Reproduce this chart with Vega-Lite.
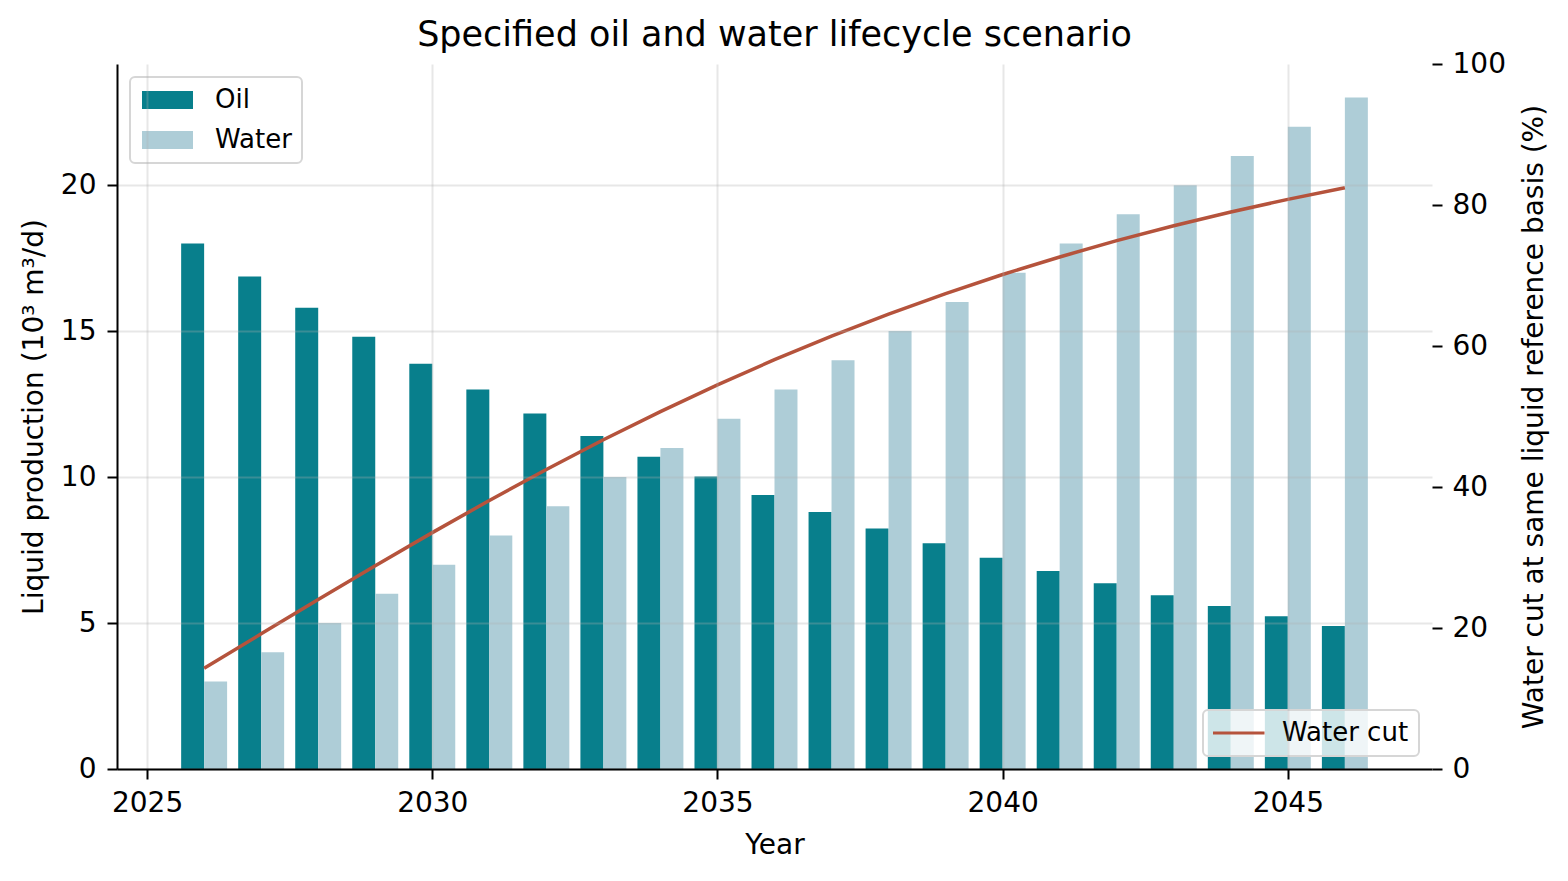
{
  "$schema": "https://vega.github.io/schema/vega-lite/v6.json",
  "width": 1315,
  "height": 705,
  "autosize": {"type": "none"},
  "padding": {"left": 117, "top": 64, "right": 136, "bottom": 112},
  "background": "white",
  "title": {
    "text": "Specified oil and water lifecycle scenario",
    "fontSize": 35,
    "fontWeight": "normal",
    "font": "DejaVu Sans",
    "color": "black",
    "anchor": "middle",
    "frame": "group",
    "baseline": "alphabetic",
    "offset": 18,
    "dy": 49
  },
  "config": {
    "font": "DejaVu Sans",
    "view": {"stroke": null},
    "axis": {
      "labelFont": "DejaVu Sans",
      "titleFont": "DejaVu Sans",
      "labelFontSize": 28,
      "titleFontSize": 28,
      "titleFontWeight": "normal",
      "labelColor": "black",
      "titleColor": "black",
      "tickColor": "black",
      "domainColor": "black",
      "tickSize": 10,
      "tickWidth": 2,
      "domainWidth": 2,
      "gridColor": "#b0b0b0",
      "gridOpacity": 0.3,
      "gridWidth": 2
    },
    "legend": {
      "labelFont": "DejaVu Sans",
      "labelFontSize": 26,
      "labelColor": "black",
      "strokeColor": "#d6d6d6",
      "strokeWidth": 2,
      "fillColor": "rgba(255,255,255,0.8)",
      "cornerRadius": 5,
      "padding": 10,
      "clipHeight": 26
    }
  },
  "datasets": {
    "bars": [
      {"year": 2026, "series": "Oil", "value": 18.00},
      {"year": 2027, "series": "Oil", "value": 16.87},
      {"year": 2028, "series": "Oil", "value": 15.80},
      {"year": 2029, "series": "Oil", "value": 14.81},
      {"year": 2030, "series": "Oil", "value": 13.88},
      {"year": 2031, "series": "Oil", "value": 13.00},
      {"year": 2032, "series": "Oil", "value": 12.18},
      {"year": 2033, "series": "Oil", "value": 11.41},
      {"year": 2034, "series": "Oil", "value": 10.70},
      {"year": 2035, "series": "Oil", "value": 10.02},
      {"year": 2036, "series": "Oil", "value": 9.39},
      {"year": 2037, "series": "Oil", "value": 8.80},
      {"year": 2038, "series": "Oil", "value": 8.24},
      {"year": 2039, "series": "Oil", "value": 7.73},
      {"year": 2040, "series": "Oil", "value": 7.24},
      {"year": 2041, "series": "Oil", "value": 6.78},
      {"year": 2042, "series": "Oil", "value": 6.36},
      {"year": 2043, "series": "Oil", "value": 5.95},
      {"year": 2044, "series": "Oil", "value": 5.58},
      {"year": 2045, "series": "Oil", "value": 5.23},
      {"year": 2046, "series": "Oil", "value": 4.90},
      {"year": 2026, "series": "Water", "value": 3},
      {"year": 2027, "series": "Water", "value": 4},
      {"year": 2028, "series": "Water", "value": 5},
      {"year": 2029, "series": "Water", "value": 6},
      {"year": 2030, "series": "Water", "value": 7},
      {"year": 2031, "series": "Water", "value": 8},
      {"year": 2032, "series": "Water", "value": 9},
      {"year": 2033, "series": "Water", "value": 10},
      {"year": 2034, "series": "Water", "value": 11},
      {"year": 2035, "series": "Water", "value": 12},
      {"year": 2036, "series": "Water", "value": 13},
      {"year": 2037, "series": "Water", "value": 14},
      {"year": 2038, "series": "Water", "value": 15},
      {"year": 2039, "series": "Water", "value": 16},
      {"year": 2040, "series": "Water", "value": 17},
      {"year": 2041, "series": "Water", "value": 18},
      {"year": 2042, "series": "Water", "value": 19},
      {"year": 2043, "series": "Water", "value": 20},
      {"year": 2044, "series": "Water", "value": 21},
      {"year": 2045, "series": "Water", "value": 22},
      {"year": 2046, "series": "Water", "value": 23}
    ],
    "cut": [
      {"year": 2026, "series": "Water cut", "water_cut": 14.29},
      {"year": 2027, "series": "Water cut", "water_cut": 19.17},
      {"year": 2028, "series": "Water cut", "water_cut": 24.04},
      {"year": 2029, "series": "Water cut", "water_cut": 28.84},
      {"year": 2030, "series": "Water cut", "water_cut": 33.53},
      {"year": 2031, "series": "Water cut", "water_cut": 38.09},
      {"year": 2032, "series": "Water cut", "water_cut": 42.49},
      {"year": 2033, "series": "Water cut", "water_cut": 46.70},
      {"year": 2034, "series": "Water cut", "water_cut": 50.70},
      {"year": 2035, "series": "Water cut", "water_cut": 54.49},
      {"year": 2036, "series": "Water cut", "water_cut": 58.06},
      {"year": 2037, "series": "Water cut", "water_cut": 61.41},
      {"year": 2038, "series": "Water cut", "water_cut": 64.53},
      {"year": 2039, "series": "Water cut", "water_cut": 67.44},
      {"year": 2040, "series": "Water cut", "water_cut": 70.14},
      {"year": 2041, "series": "Water cut", "water_cut": 72.63},
      {"year": 2042, "series": "Water cut", "water_cut": 74.94},
      {"year": 2043, "series": "Water cut", "water_cut": 77.06},
      {"year": 2044, "series": "Water cut", "water_cut": 79.01},
      {"year": 2045, "series": "Water cut", "water_cut": 80.80},
      {"year": 2046, "series": "Water cut", "water_cut": 82.44}
    ]
  },
  "layer": [
    {
      "data": {"name": "bars"},
      "layer": [
        {
          "transform": [{"filter": "datum.series === 'Oil'"}],
          "mark": {"type": "bar", "width": 22.98, "xOffset": -11.49},
          "encoding": {
            "x": {
              "field": "year", "type": "quantitative",
              "scale": {"domain": [2024.56, 2047.44], "nice": false, "zero": false},
              "axis": {
                "values": [2025, 2030, 2035, 2040, 2045], "format": "d",
                "title": "Year", "grid": true, "zindex": 1,
                "labelPadding": 10, "titleBaseline": "alphabetic", "titleY": 84
              }
            },
            "y": {
              "field": "value", "type": "quantitative", "stack": null,
              "scale": {"domain": [0, 24.15], "nice": false, "zero": true},
              "axis": {
                "values": [0, 5, 10, 15, 20],
                "title": "Liquid production (10³ m³/d)", "grid": true, "zindex": 1,
                "labelPadding": 11, "titleAngle": 270, "titleBaseline": "alphabetic",
                "titleX": -75, "titleY": 352.5
              }
            },
            "color": {
              "field": "series", "type": "nominal",
              "scale": {"domain": ["Oil", "Water"], "range": ["#087f8c", "#aecdd7"]},
              "legend": {
                "title": null, "orient": "top-left", "offset": 13,
                "symbolType": "M-1,-0.35H1V0.35H-1Z", "symbolSize": 2601,
                "symbolStrokeWidth": 0, "symbolOffset": 2, "labelOffset": 22,
                "rowPadding": 14
              }
            }
          }
        },
        {
          "transform": [{"filter": "datum.series === 'Water'"}],
          "mark": {"type": "bar", "width": 22.98, "xOffset": 11.49},
          "encoding": {
            "x": {"field": "year", "type": "quantitative"},
            "y": {"field": "value", "type": "quantitative", "stack": null},
            "color": {"field": "series", "type": "nominal"}
          }
        }
      ]
    },
    {
      "data": {"name": "cut"},
      "mark": {"type": "line", "strokeWidth": 3.5},
      "encoding": {
        "x": {"field": "year", "type": "quantitative"},
        "y": {
          "field": "water_cut", "type": "quantitative",
          "scale": {"domain": [0, 100], "nice": false},
          "axis": {
            "orient": "right", "values": [0, 20, 40, 60, 80, 100],
            "domain": false, "grid": false,
            "title": "Water cut at same liquid reference basis (%)",
            "labelPadding": 10, "titleAngle": 270, "titleBaseline": "alphabetic",
            "titleX": 110, "titleY": 352.5
          }
        },
        "stroke": {
          "field": "series", "type": "nominal",
          "scale": {"domain": ["Water cut"], "range": ["#b5533c"]},
          "legend": {
            "title": null, "orient": "bottom-right", "offset": 13,
            "symbolType": "stroke", "symbolSize": 3025, "symbolStrokeWidth": 3,
            "symbolOffset": -5, "labelOffset": 16
          }
        }
      }
    }
  ],
  "resolve": {"scale": {"y": "independent"}}
}
